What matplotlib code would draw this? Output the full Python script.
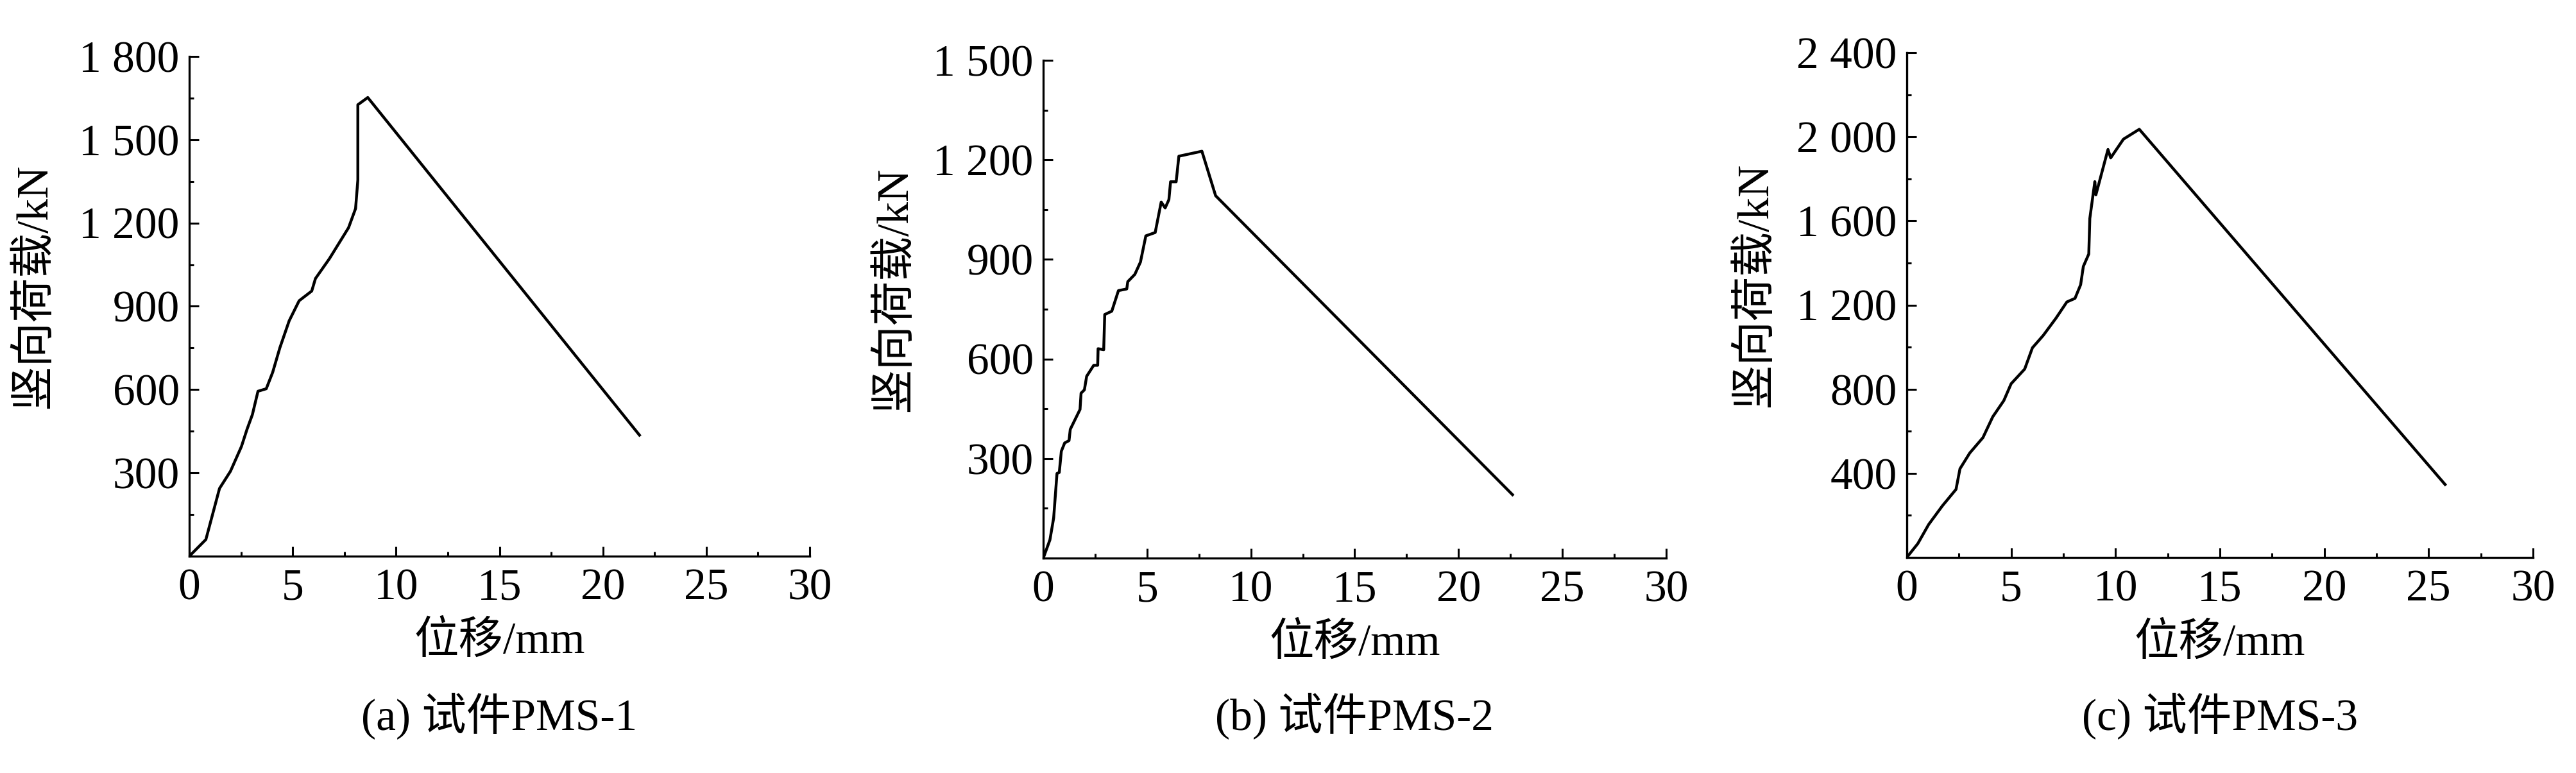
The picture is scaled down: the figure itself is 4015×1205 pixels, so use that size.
import matplotlib.pyplot as plt
import numpy as np
from matplotlib.ticker import MultipleLocator, FixedLocator, FixedFormatter

plt.rcParams['font.family'] = ['Liberation Serif', 'Noto Sans CJK SC']
plt.rcParams['axes.unicode_minus'] = False

# 试件 PMS-1
disp_1 = [0, 0.8, 1.46, 1.99, 2.52, 2.79, 3.05, 3.32, 3.72, 4.03, 4.38, 4.83, 5.31,
          5.92, 6.1, 6.77, 7.70, 8.04, 8.15, 8.15, 8.63, 21.77]
load_1 = [0, 60, 244, 306, 395, 457, 510, 594, 603, 662, 751, 848, 920,
          955, 1000, 1071, 1183, 1252, 1355, 1626, 1652, 436]

# 试件 PMS-2
disp_2 = [0, 0.32, 0.50, 0.66, 0.77, 0.87, 1.03, 1.24, 1.30, 1.77, 1.82, 1.98, 2.09,
          2.43, 2.62, 2.64, 2.91, 2.96, 3.30, 3.62, 4.02, 4.07, 4.41, 4.68, 4.94,
          5.39, 5.68, 5.87, 6.05, 6.13, 6.40, 6.53, 7.64, 8.30, 22.60]
load_2 = [0, 55, 121, 255, 258, 322, 347, 354, 388, 448, 497, 507, 548,
          581, 581, 631, 628, 734, 744, 806, 811, 833, 855, 892, 971,
          981, 1073, 1055, 1080, 1134, 1134, 1211, 1226, 1092, 191]

# 试件 PMS-3
disp_3 = [0, 0.53, 1.05, 1.71, 2.36, 2.55, 3.02, 3.65, 4.12, 4.65, 5.0, 5.65, 6.02,
          6.54, 7.15, 7.67, 8.06, 8.33, 8.46, 8.72, 8.77, 9.01, 9.06, 9.64, 9.77,
          10.38, 11.14, 25.79]
load_3 = [0, 66, 157, 246, 324, 422, 497, 570, 669, 746, 826, 896, 997,
          1056, 1138, 1215, 1232, 1297, 1384, 1443, 1612, 1787, 1724, 1940, 1900,
          1989, 2036, 347]

x_ticks = [0, 5, 10, 15, 20, 25, 30]
y_ticks_1 = [0, 300, 600, 900, 1200, 1500, 1800]
y_ticks_2 = [0, 300, 600, 900, 1200, 1500]
y_ticks_3 = [0, 400, 800, 1200, 1600, 2000, 2400]
captions = ['(a) 试件PMS-1', '(b) 试件PMS-2', '(c) 试件PMS-3']
x_label = '位移/mm'
y_label = '竖向荷载/kN'


def fmt(v):
    # 千位用空格分隔, 0 不标
    if v == 0:
        return ''
    return f'{v:,}'.replace(',', ' ')


fig = plt.figure(figsize=(40.15, 12.05), dpi=100)
boxes = [[0.0735, 0.2805, 0.2408, 0.6465],
         [0.4050, 0.2780, 0.2418, 0.6440],
         [0.7402, 0.2788, 0.2431, 0.6530]]
series = [(disp_1, load_1, y_ticks_1), (disp_2, load_2, y_ticks_2), (disp_3, load_3, y_ticks_3)]
ylab_x = [-0.25, -0.238, -0.242]

fs = 50
for k, (box, (xd, yd, yt)) in enumerate(zip(boxes, series)):
    ax = fig.add_axes(box)
    ax.plot(xd, yd, color='black', lw=3.2)
    ax.set_xlim(0, 30)
    ax.set_ylim(0, yt[-1])
    ax.spines['top'].set_visible(False)
    ax.spines['right'].set_visible(False)
    for s in ['left', 'bottom']:
        ax.spines[s].set_linewidth(2.4)
    ax.xaxis.set_major_locator(FixedLocator(x_ticks))
    ax.xaxis.set_major_formatter(FixedFormatter([str(v) for v in x_ticks]))
    ax.xaxis.set_minor_locator(MultipleLocator(2.5))
    ax.yaxis.set_major_locator(FixedLocator(yt))
    ax.yaxis.set_major_formatter(FixedFormatter([fmt(v) for v in yt]))
    ax.yaxis.set_minor_locator(MultipleLocator((yt[1] - yt[0]) / 2))
    ax.tick_params(which='both', direction='in', width=2.2, labelsize=fs)
    ax.tick_params(which='major', length=10.8)
    ax.tick_params(which='minor', length=4.8)
    ax.tick_params(axis='x', which='major', pad=14)
    ax.tick_params(axis='y', which='major', pad=11)
    ax.set_xlabel(x_label, fontsize=fs)
    ax.xaxis.set_label_coords(0.5, -0.171)
    ax.xaxis.label.set_va('center')
    ax.set_ylabel(y_label, fontsize=fs)
    ax.yaxis.set_label_coords(ylab_x[k], 0.54)
    ax.yaxis.label.set_va('center')
    fig.text(box[0] + box[2] / 2, 1 - 1117 / 1205, captions[k], fontsize=fs,
             ha='center', va='center')

fig.savefig('out.png', dpi=100, facecolor='white')
